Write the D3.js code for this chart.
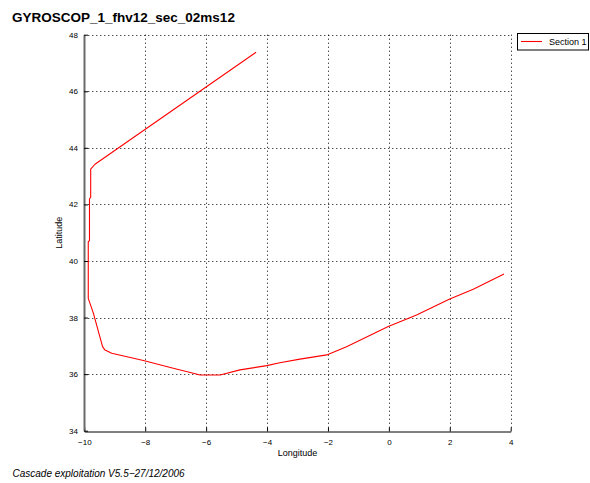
<!DOCTYPE html>
<html>
<head>
<meta charset="utf-8">
<script src="https://cdn.jsdelivr.net/npm/d3@7"></script>
<style>
  html, body { margin: 0; padding: 0; background: #fff; }
  svg { display: block; font-family: "Liberation Sans", Arial, Helvetica, sans-serif; }
</style>
</head>
<body>
<svg id="chart" width="590" height="483"></svg>
<script>
// Ship track, Section 1 (longitude / latitude in degrees)
const lon = [-4.36, -9.65, -9.79, -9.79, -9.83, -9.83, -9.87, -9.87, -9.70, -9.40, -9.32, -9.10,
             -8.06, -7.08, -6.42, -6.20, -5.54, -4.89, -4.01, -3.58, -2.92, -2.04, -1.39, -0.02,
             0.91, 1.98, 2.77, 3.78];
const lat = [47.38, 43.42, 43.25, 42.25, 42.20, 40.72, 40.68, 38.68, 38.15, 36.97, 36.85, 36.74,
             36.48, 36.21, 36.03, 35.97, 35.97, 36.15, 36.30, 36.40, 36.53, 36.68, 36.97, 37.68,
             38.09, 38.65, 39.00, 39.54];
const lonTicks = [-10, -8, -6, -4, -2, 0, 2, 4];
const latTicks = [34, 36, 38, 40, 42, 44, 46, 48];
const seriesName = "Section 1";
const title = "GYROSCOP_1_fhv12_sec_02ms12";
const footer = "Cascade exploitation V5.5\u221227/12/2006";

const svg = d3.select("#chart");
const x = d3.scaleLinear().domain([-10, 4]).range([84.3, 510.7]);
const y = d3.scaleLinear().domain([34, 48]).range([430.7, 34.7]);

// dotted grid
const grid = svg.append("g").attr("stroke", "#000").attr("stroke-width", 1)
  .attr("stroke-dasharray", "1,3").attr("fill", "none");
grid.selectAll("line.v").data(lonTicks.slice(1)).join("line").attr("class", "v")
  .attr("x1", d => Math.round(x(d)) + 0.5).attr("x2", d => Math.round(x(d)) + 0.5)
  .attr("y1", y(48)).attr("y2", y(34));
grid.selectAll("line.h").data(latTicks.slice(1)).join("line").attr("class", "h")
  .attr("y1", d => Math.round(y(d)) + 0.5).attr("y2", d => Math.round(y(d)) + 0.5)
  .attr("x1", x(-10)).attr("x2", x(4));

// axes
const xAxis = svg.append("g").attr("transform", `translate(0,${Math.round(y(34)) + 0.5})`)
  .call(d3.axisBottom(x).tickValues(lonTicks).tickSizeInner(-4).tickSizeOuter(0).tickPadding(8));
const yAxis = svg.append("g").attr("transform", `translate(${Math.round(x(-10))},0)`)
  .call(d3.axisLeft(y).tickValues(latTicks).tickSizeInner(-4).tickSizeOuter(0).tickPadding(6));
[xAxis, yAxis].forEach(g => {
  g.selectAll("text").attr("font-size", 8).attr("fill", "#000")
    .attr("font-family", "'Liberation Sans', Arial, sans-serif");
  g.selectAll(".tick line").attr("stroke", "#000");
});
xAxis.select(".domain").attr("stroke", "#000").attr("stroke-width", 1);
yAxis.select(".domain").attr("stroke", "#6a6a6a").attr("stroke-width", 2);

// track
const line = d3.line().x((d, i) => x(lon[i])).y((d, i) => y(lat[i]));
svg.append("path").datum(lon).attr("d", line)
  .attr("fill", "none").attr("stroke", "#ff0000").attr("stroke-width", 1.1)
  .attr("stroke-linejoin", "round");

// labels
svg.append("text").attr("x", 12).attr("y", 22).attr("font-size", 13.5)
  .attr("font-weight", "bold").text(title);
svg.append("text").attr("x", (x(-10) + x(4)) / 2).attr("y", 456).attr("font-size", 9)
  .attr("text-anchor", "middle").text("Longitude");
svg.append("text").attr("transform", `translate(62,${(y(34) + y(48)) / 2}) rotate(-90)`)
  .attr("font-size", 9).attr("text-anchor", "middle").text("Latitude");
svg.append("text").attr("x", 12.5).attr("y", 477).attr("font-size", 10)
  .attr("font-style", "italic").text(footer);

// legend
const lg = svg.append("g");
lg.append("rect").attr("x", 517.5).attr("y", 33.5).attr("width", 71).attr("height", 16.5)
  .attr("fill", "#fff").attr("stroke", "#000").attr("stroke-width", 1);
lg.append("line").attr("x1", 521).attr("x2", 542).attr("y1", 41.5).attr("y2", 41.5)
  .attr("stroke", "#ff0000").attr("stroke-width", 1.1);
lg.append("text").attr("x", 549).attr("y", 45).attr("font-size", 9).text(seriesName);
</script>
</body>
</html>
